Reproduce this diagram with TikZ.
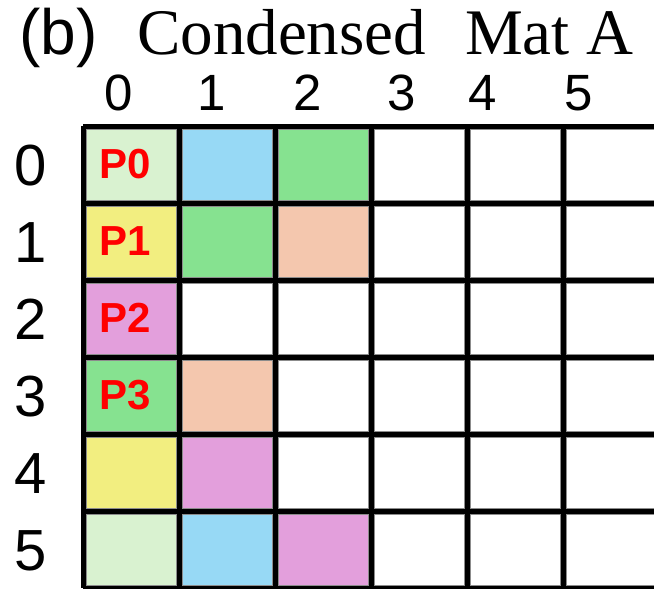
\documentclass[tikz,border=0pt]{standalone}
\usepackage{fontspec}
\setmainfont{Liberation Serif}
\newfontfamily\arial{Liberation Sans}
\definecolor{cLgreen}{HTML}{D9F2D0}
\definecolor{cBlue}{HTML}{97D9F5}
\definecolor{cGreen}{HTML}{86E290}
\definecolor{cPeach}{HTML}{F4C7AE}
\definecolor{cYellow}{HTML}{F2EE80}
\definecolor{cPink}{HTML}{E39FDC}
\definecolor{cRed}{HTML}{FF0000}
\begin{document}
\begin{tikzpicture}[x=1pt,y=-1pt,
  cellbox/.style={rectangle,inner sep=0pt,outer sep=0pt,minimum width=90pt,minimum height=71pt,draw=black!45,line width=0.8pt},
  gridline/.style={line width=5pt,draw=black},
  coltxt/.style={anchor=base,inner sep=0pt,font=\arial\fontsize{51}{54}\selectfont},
  rowtxt/.style={anchor=base,inner sep=0pt,font=\arial\fontsize{58}{60}\selectfont},
  ptxt/.style={anchor=base,inner sep=0pt,text=cRed,font=\arial\bfseries\fontsize{42}{44}\selectfont}]
\useasboundingbox (0,0) rectangle (654,589);
\clip (0,0) rectangle (654,589);
% title
\node[anchor=base west,inner sep=0pt,font=\arial\fontsize{64}{70}\selectfont] (lab) at (19,54) {(b)};
\node[anchor=base west,inner sep=0pt,font=\fontsize{65}{70}\selectfont] (ttl1) at (137,54) {Condensed};
\node[anchor=base west,inner sep=0pt,font=\fontsize{65}{70}\selectfont] (ttl2) at (465,54) {Mat A};
% column numbers
\node[coltxt] (col0) at (119,110) {0};
\node[coltxt] (col1) at (212,110) {1};
\node[coltxt] (col2) at (308,110) {2};
\node[coltxt] (col3) at (402,110) {3};
\node[coltxt] (col4) at (483,110) {4};
\node[coltxt] (col5) at (579,110) {5};
% row numbers
\foreach \r in {0,...,5}{
  \node[rowtxt] (row\r) at (31,{164.5+77*\r+20.5}) {\r};
}
% cells
\foreach \r in {0,...,5}{
  \foreach \c in {0,...,6}{
    \node[cellbox,fill=white] (cell-\r-\c) at ({131+96*\c},{164.5+77*\r}) {};
  }
}
\node[cellbox,fill=cLgreen] (f00) at (cell-0-0) {};
\node[cellbox,fill=cBlue]   (f01) at (cell-0-1) {};
\node[cellbox,fill=cGreen]  (f02) at (cell-0-2) {};
\node[cellbox,fill=cYellow] (f10) at (cell-1-0) {};
\node[cellbox,fill=cGreen]  (f11) at (cell-1-1) {};
\node[cellbox,fill=cPeach]  (f12) at (cell-1-2) {};
\node[cellbox,fill=cPink]   (f20) at (cell-2-0) {};
\node[cellbox,fill=cGreen]  (f30) at (cell-3-0) {};
\node[cellbox,fill=cPeach]  (f31) at (cell-3-1) {};
\node[cellbox,fill=cYellow] (f40) at (cell-4-0) {};
\node[cellbox,fill=cPink]   (f41) at (cell-4-1) {};
\node[cellbox,fill=cLgreen] (f50) at (cell-5-0) {};
\node[cellbox,fill=cBlue]   (f51) at (cell-5-1) {};
\node[cellbox,fill=cPink]   (f52) at (cell-5-2) {};
% grid
\foreach \i in {0,...,6}{
  \draw[gridline] ({83+96*\i},126) -- ({83+96*\i},588);
  \draw[gridline] (83,{126+77*\i}) -- (700,{126+77*\i});
}
% P labels
\foreach \r in {0,...,3}{
  \node[ptxt] (p\r) at (125,{164.5+77*\r+14}) {P\r};
}
\end{tikzpicture}
\end{document}
